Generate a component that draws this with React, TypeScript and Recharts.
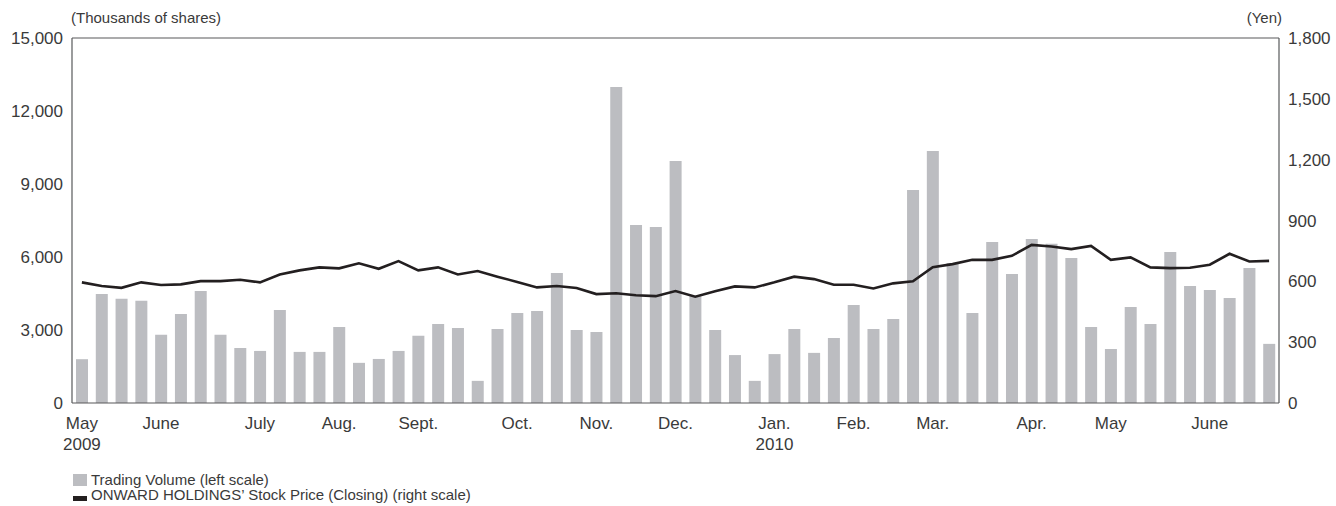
import React from 'react';
import { ComposedChart, Bar, Line, XAxis, YAxis, ReferenceLine, Legend } from 'recharts';

const weeks = [
  '1', '2', '3', '4', '5', '6', '7', '8', '9', '10',
  '11', '12', '13', '14', '15', '16', '17', '18', '19', '20',
  '21', '22', '23', '24', '25', '26', '27', '28', '29', '30',
  '31', '32', '33', '34', '35', '36', '37', '38', '39', '40',
  '41', '42', '43', '44', '45', '46', '47', '48', '49', '50',
  '51', '52', '53', '54', '55', '56', '57', '58', '59', '60',
  '61',
];

const volume = [
  1800, 4480, 4280, 4200, 2800, 3660, 4600, 2800, 2260, 2140,
  3820, 2100, 2100, 3120, 1650, 1810, 2140, 2760, 3250, 3080,
  910, 3040, 3700, 3780, 5340, 3000, 2920, 12990, 7320, 7230,
  9950, 4400, 3000, 1970, 910, 2010, 3040, 2060, 2670, 4030,
  3040, 3450, 8750, 10360, 5750, 3700, 6620, 5300, 6740, 6540,
  5960, 3120, 2220, 3950, 3250, 6210, 4810, 4640, 4320, 5550,
  2430,
];

const price = [
  595, 577, 568, 595, 582, 585, 601, 601, 608, 595,
  634, 654, 669, 664, 689, 662, 700, 654, 669, 634,
  651, 623, 597, 570, 577, 567, 537, 541, 531, 527,
  552, 524, 551, 575, 570, 595, 623, 611, 583, 583,
  565, 590, 600, 670, 685, 706, 706, 726, 780, 772,
  759, 775, 706, 718, 669, 665, 667, 682, 736, 698,
  701,
];

const monthWeeks = ['1', '5', '10', '14', '18', '23', '27', '31', '36', '40', '44', '49', '53', '58'];
const monthLabels = ['May', 'June', 'July', 'Aug.', 'Sept.', 'Oct.', 'Nov.', 'Dec.', 'Jan.', 'Feb.', 'Mar.', 'Apr.', 'May', 'June'];
const yearLabels = ['2009', '', '', '', '', '', '', '', '2010', '', '', '', '', ''];

const leftTicks = [0, 3000, 6000, 9000, 12000, 15000];
const rightTicks = [0, 300, 600, 900, 1200, 1500, 1800];

const data = weeks.map((w, i) => ({ week: w, volume: volume[i], price: price[i] }));

const FONT = '"Liberation Sans", Arial, Helvetica, sans-serif';
const TEXT = '#3a3a3a';
const AXIS = '#58595b';
const BAR = '#bcbdc1';
const LINE = '#231f20';

const fmt = (v: number) => v.toLocaleString('en-US');

const MonthTick = (props: any) => {
  const { x, y, payload } = props;
  const i = monthWeeks.indexOf(String(payload.value));
  if (i < 0) return null;
  return (
    <g>
      <text x={x} y={y + 26} textAnchor="middle" fontSize={17} fontFamily={FONT} fill={TEXT}>
        {monthLabels[i]}
      </text>
      {yearLabels[i] ? (
        <text x={x} y={y + 47} textAnchor="middle" fontSize={17} fontFamily={FONT} fill={TEXT}>
          {yearLabels[i]}
        </text>
      ) : null}
    </g>
  );
};

const LegendContent = () => (
  <div style={{ fontFamily: FONT, fontSize: 15, color: TEXT, lineHeight: '15px' }}>
    <div style={{ display: 'flex', alignItems: 'center', height: 15, whiteSpace: 'nowrap' }}>
      <span style={{ display: 'inline-block', width: 14, height: 12, background: BAR, marginRight: 4 }} />
      <span>Trading Volume (left scale)</span>
    </div>
    <div style={{ display: 'flex', alignItems: 'center', height: 15, whiteSpace: 'nowrap' }}>
      <span
        style={{
          display: 'inline-block',
          width: 14,
          height: 5,
          background: LINE,
          marginRight: 4,
          position: 'relative',
          top: 4,
        }}
      />
      <span>ONWARD HOLDINGS’ Stock Price (Closing) (right scale)</span>
    </div>
  </div>
);

export default function App() {
  return (
    <div style={{ position: 'absolute', left: 0, top: 0, width: 1336, height: 506, background: '#fff' }}>
      <ComposedChart
        width={1336}
        height={506}
        data={data}
        margin={{ top: 38, right: 0, bottom: 63, left: 0 }}
        barCategoryGap={0}
      >
        <XAxis
          dataKey="week"
          type="category"
          ticks={monthWeeks}
          interval={0}
          tickLine={false}
          tickSize={0}
          tickMargin={0}
          axisLine={{ stroke: AXIS, strokeWidth: 1.2 }}
          height={40}
          tick={<MonthTick />}
        />
        <YAxis
          yAxisId="left"
          orientation="left"
          width={72}
          domain={[0, 15000]}
          ticks={leftTicks}
          tickFormatter={fmt}
          tickLine={false}
          tickSize={0}
          tickMargin={9}
          axisLine={{ stroke: AXIS, strokeWidth: 1.2 }}
          tick={{ fontSize: 17, fontFamily: FONT, fill: TEXT }}
          interval={0}
          label={(p: any) => {
            const vb = p.viewBox || { x: 0, y: 38, width: 72 };
            return (
              <text x={vb.x + vb.width - 1} y={vb.y - 15} textAnchor="start" fontSize={15} fontFamily={FONT} fill={TEXT}>
                (Thousands of shares)
              </text>
            );
          }}
        />
        <YAxis
          yAxisId="right"
          orientation="right"
          width={57}
          domain={[0, 1800]}
          ticks={rightTicks}
          tickFormatter={fmt}
          tickLine={false}
          tickSize={0}
          tickMargin={9}
          axisLine={{ stroke: AXIS, strokeWidth: 1.2 }}
          tick={{ fontSize: 17, fontFamily: FONT, fill: TEXT }}
          interval={0}
          label={(p: any) => {
            const vb = p.viewBox || { x: 1279, y: 38, width: 57 };
            return (
              <text x={vb.x + 3} y={vb.y - 15} textAnchor="end" fontSize={15} fontFamily={FONT} fill={TEXT}>
                (Yen)
              </text>
            );
          }}
        />
        <ReferenceLine yAxisId="left" y={15000} stroke={AXIS} strokeWidth={1.2} />
        <Bar yAxisId="left" dataKey="volume" fill={BAR} barSize={12} isAnimationActive={false} />
        <Line
          yAxisId="right"
          dataKey="price"
          type="linear"
          stroke={LINE}
          strokeWidth={2.6}
          dot={false}
          activeDot={false}
          isAnimationActive={false}
        />
        <Legend
          verticalAlign="middle"
          align="center"
          layout="horizontal"
          content={<LegendContent />}
          wrapperStyle={{ left: 73, top: 472, bottom: 'auto', right: 'auto', width: 600, height: 32 }}
        />
      </ComposedChart>
    </div>
  );
}
